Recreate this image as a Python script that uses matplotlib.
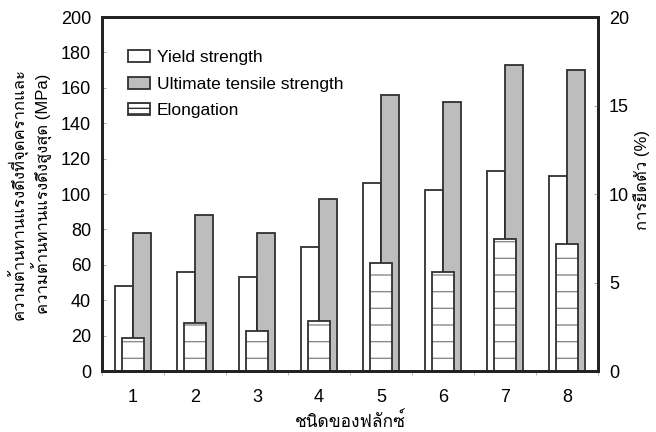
import numpy as np
import matplotlib
matplotlib.use("Agg")
import matplotlib.pyplot as plt
from matplotlib import font_manager as fm
from matplotlib.ft2font import FT2Font
from matplotlib.patches import Patch

flux = [1, 2, 3, 4, 5, 6, 7, 8]
yield_strength = [48, 56, 53, 70, 106, 102, 113, 110]
uts = [78, 88, 78, 97, 156, 152, 173, 170]
elongation = [1.85, 2.7, 2.25, 2.8, 6.1, 5.6, 7.45, 7.2]


def thai_family():
    # look for any installed font that actually covers the Thai block
    for f in fm.fontManager.ttflist:
        try:
            if 0x0E01 in FT2Font(f.fname).get_charmap():
                return f.name
        except Exception:
            pass
    return None


th = thai_family()
fam = ["Liberation Sans"] + ([th] if th else []) + ["DejaVu Sans"]
plt.rcParams["font.family"] = fam
plt.rcParams["hatch.linewidth"] = 1.0

edge = "#303030"
hatch_c = "#8c8c8c"
fig = plt.figure(figsize=(6.56, 4.32), dpi=100)
ax = fig.add_axes([0.1555, 0.1412, 0.7561, 0.8194])
ax2 = ax.twinx()

x = np.array(flux)
w = 0.29
ax.bar(x - w / 2, yield_strength, w, color="white", edgecolor=edge, linewidth=1.3)
ax.bar(x + w / 2, uts, w, color="#bdbdbd", edgecolor=edge, linewidth=1.3)

# hatched fill in grey first, then a dark outline on top
ax2.bar(x, elongation, 0.36, color="white", edgecolor=hatch_c, linewidth=0, hatch="-")
ax2.bar(x, elongation, 0.36, fill=False, edgecolor=edge, linewidth=1.3)

ax.set_xlim(0.5, 8.5)
ax.set_ylim(0, 200)
ax2.set_ylim(0, 20)
ax.set_yticks(range(0, 201, 20))
ax2.set_yticks(range(0, 21, 5))
ax.set_xticks(x)
ax.set_xticks(np.arange(0.5, 8.6, 1), minor=True)
ax.tick_params(axis="x", which="major", length=0, pad=13, labelsize=13)
ax.tick_params(axis="x", which="minor", length=3, color="#aaaaaa", direction="out")
ax.tick_params(axis="y", length=3, color="#aaaaaa", direction="in", labelsize=13, pad=8)
ax2.tick_params(axis="y", length=3, color="#aaaaaa", direction="in", labelsize=13, pad=8)

for a in (ax, ax2):
    for s in a.spines.values():
        s.set_linewidth(2)
        s.set_color("#222222")

ax.set_ylabel("ความต้านทานแรงดึงที่จุดครากและ\nความต้านทานแรงดึงสูงสุด (MPa)", fontsize=12, labelpad=0)
ax.yaxis.set_label_coords(-0.098, 0.5)
ax2.set_ylabel("การยืดตัว (%)", fontsize=12)
ax2.yaxis.set_label_coords(1.07, 0.54)
ax.set_xlabel("ชนิดของฟลักซ์", fontsize=12.5, labelpad=4)

handles = [
    Patch(facecolor="white", edgecolor=edge, linewidth=1.3),
    Patch(facecolor="#bdbdbd", edgecolor=edge, linewidth=1.3),
    Patch(facecolor="white", edgecolor=edge, linewidth=1.3, hatch="---"),
]
ax.legend(handles, ["Yield strength", "Ultimate tensile strength", "Elongation"],
          loc="upper left", bbox_to_anchor=(0.02, 0.95), frameon=False, fontsize=12.5,
          handlelength=1.3, handleheight=0.7, handletextpad=0.4, labelspacing=0.65)

fig.savefig("out.png", dpi=100)
